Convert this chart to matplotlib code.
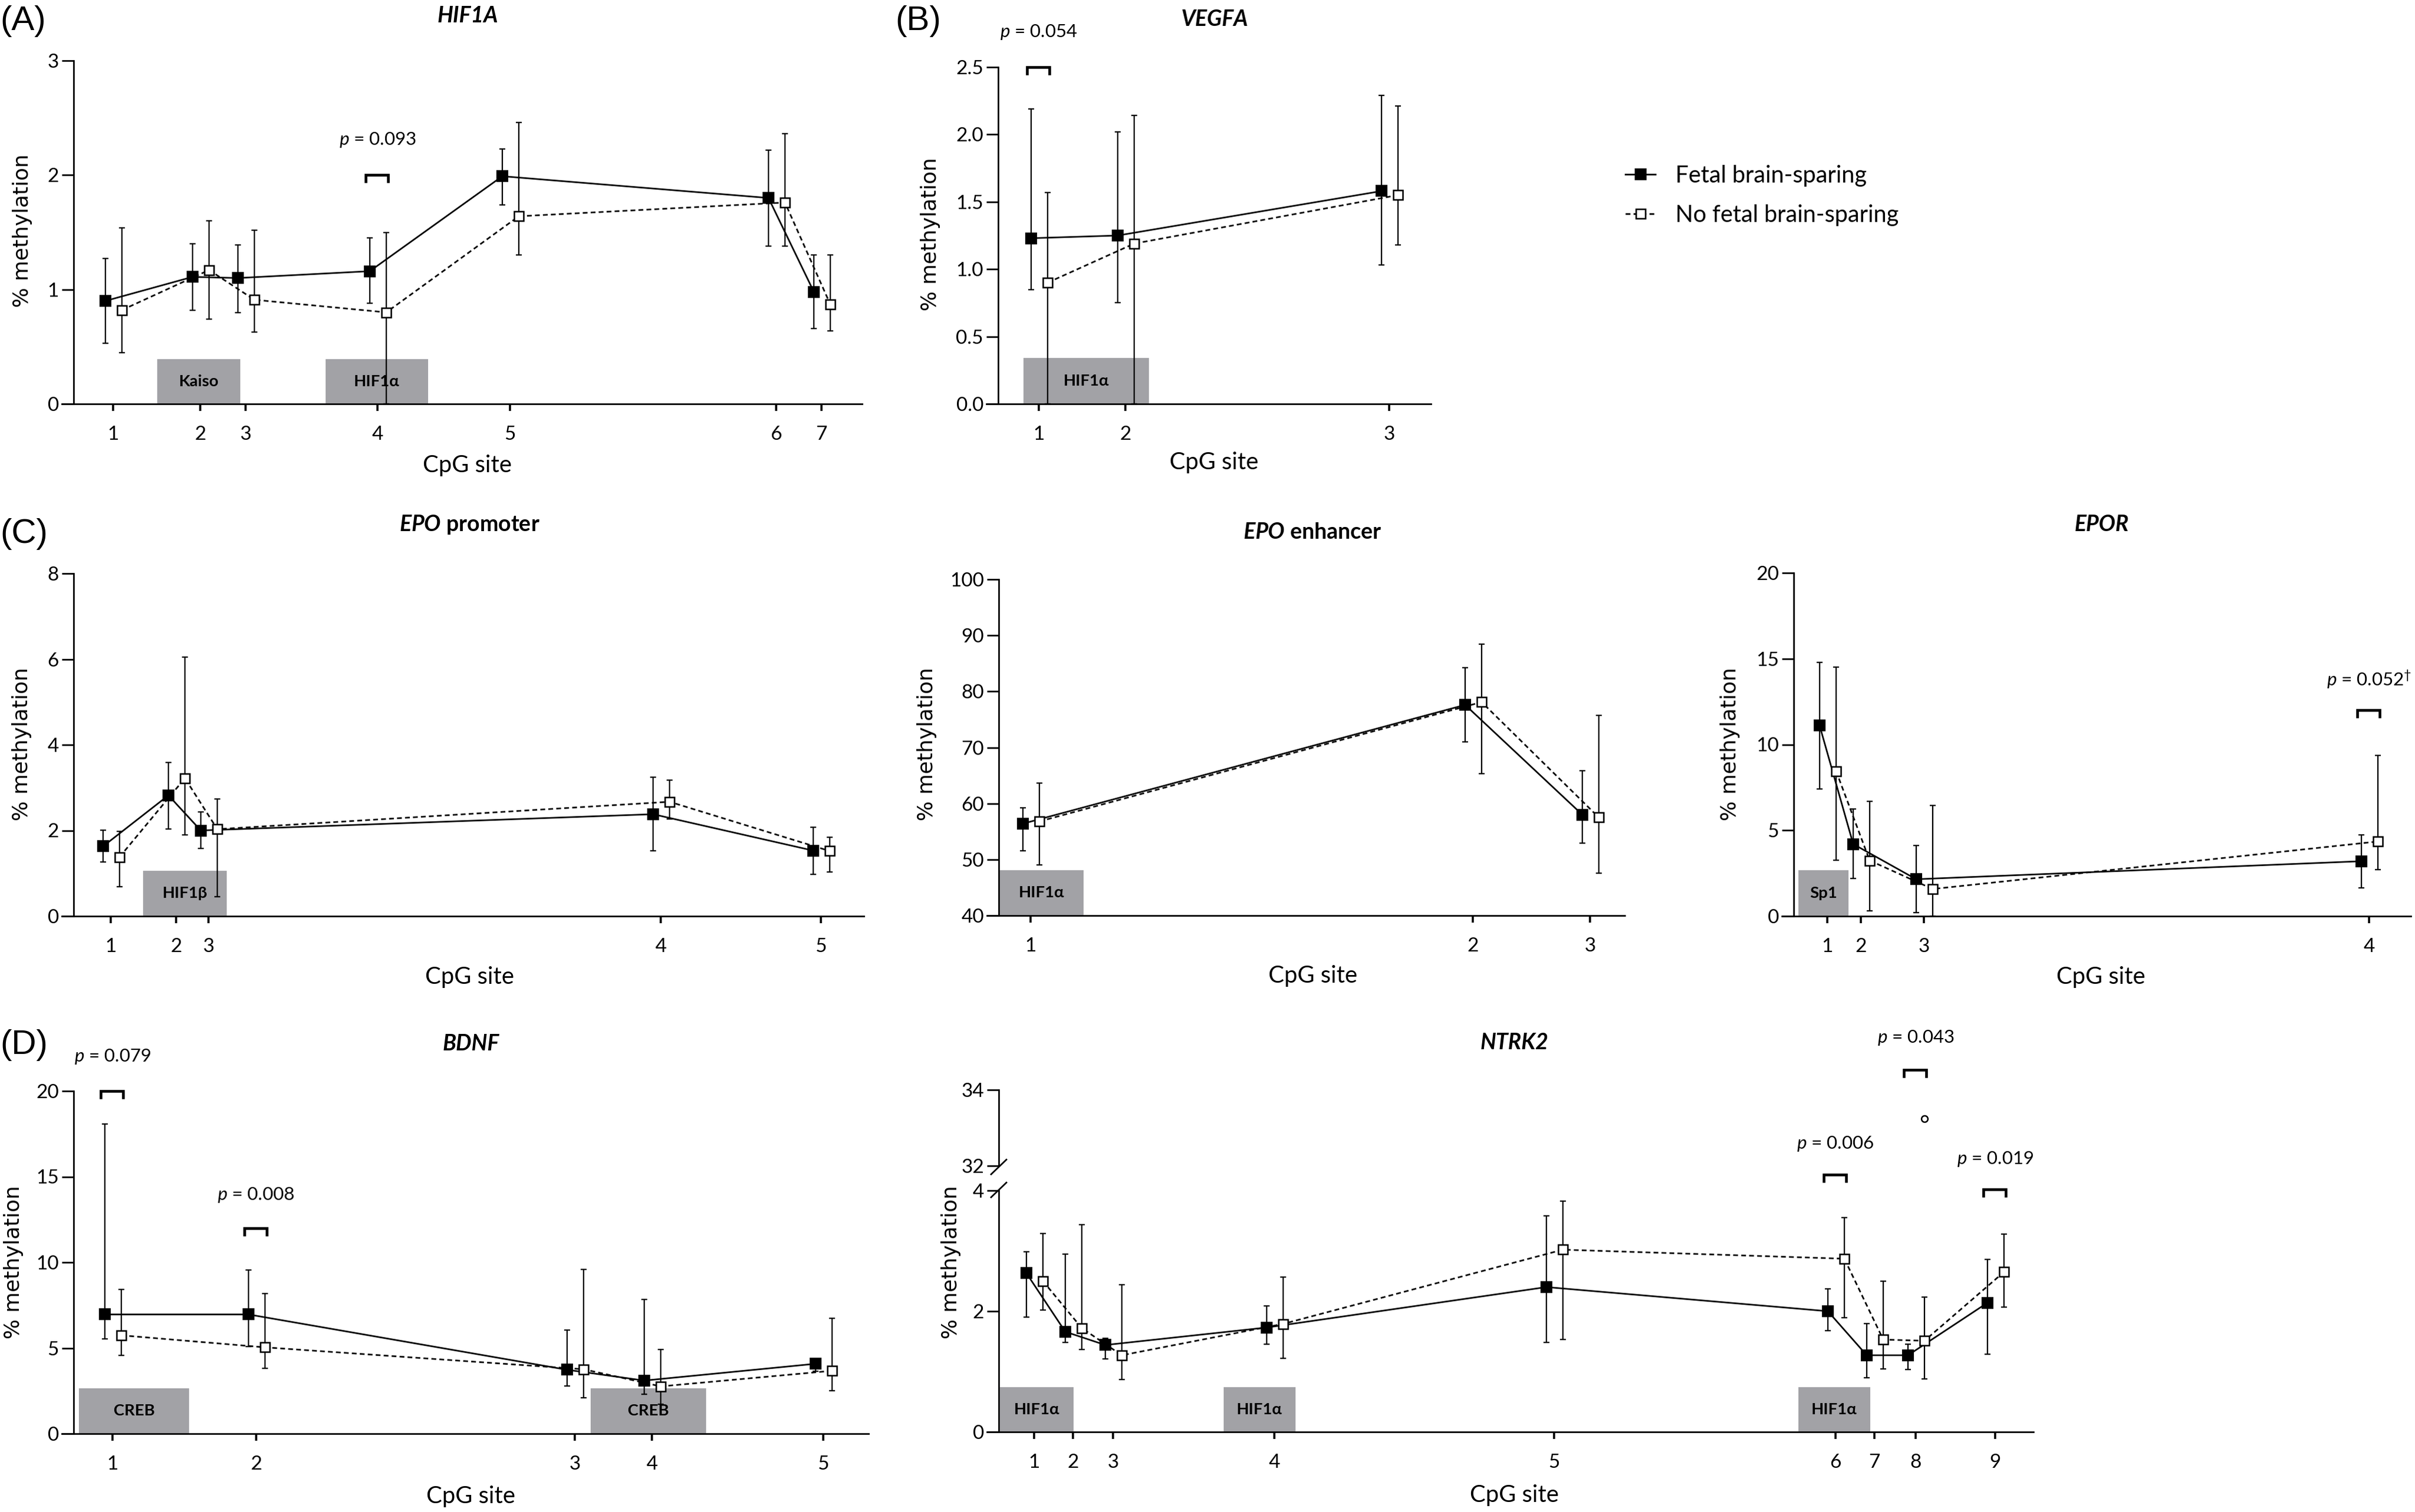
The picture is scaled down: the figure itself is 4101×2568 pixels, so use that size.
import matplotlib
matplotlib.use("Agg")
import matplotlib.pyplot as plt
from matplotlib.lines import Line2D
from matplotlib.patches import Rectangle
import numpy as np

W, H, DPI = 4101, 2568, 300

plt.rcParams['font.family'] = ['Lato', 'DejaVu Sans']
plt.rcParams['mathtext.fontset'] = 'custom'
plt.rcParams['mathtext.rm'] = 'Lato'
plt.rcParams['mathtext.it'] = 'Lato:italic'
plt.rcParams['mathtext.bf'] = 'Lato:bold'
plt.rcParams['mathtext.bfit'] = 'Lato:italic:bold'

# ---------------- data (% methylation, median + range bars) ----------------
# HIF1A
hif1a_pos = [67, 215, 292, 516, 741, 1193, 1270]
hif1a_fbs = [0.90, 1.11, 1.10, 1.16, 1.99, 1.80, 0.98]
hif1a_fbs_lo = [0.53, 0.82, 0.80, 0.88, 1.74, 1.38, 0.66]
hif1a_fbs_hi = [1.27, 1.40, 1.39, 1.45, 2.23, 2.22, 1.30]
hif1a_no = [0.82, 1.17, 0.91, 0.80, 1.64, 1.76, 0.87]
hif1a_no_lo = [0.45, 0.74, 0.63, 0.00, 1.30, 1.38, 0.64]
hif1a_no_hi = [1.54, 1.60, 1.52, 1.50, 2.46, 2.36, 1.30]
hif1a_tf = [("Kaiso", 142, 283), ("HIF1α", 428, 602)]

# VEGFA
vegfa_pos = [69, 216, 664]
vegfa_fbs = [1.23, 1.25, 1.58]
vegfa_fbs_lo = [0.85, 0.75, 1.03]
vegfa_fbs_hi = [2.19, 2.02, 2.29]
vegfa_no = [0.90, 1.19, 1.55]
vegfa_no_lo = [0.00, 0.00, 1.18]
vegfa_no_hi = [1.57, 2.14, 2.21]
vegfa_tf = [("HIF1α", 43, 256)]

# EPO promoter
epop_pos = [63, 174, 229, 997, 1269]
epop_fbs = [1.63, 2.82, 2.00, 2.38, 1.53]
epop_fbs_lo = [1.27, 2.03, 1.58, 1.53, 0.97]
epop_fbs_hi = [2.01, 3.59, 2.43, 3.25, 2.08]
epop_no = [1.38, 3.22, 2.03, 2.67, 1.52]
epop_no_lo = [0.69, 1.90, 0.45, 2.27, 1.03]
epop_no_hi = [1.98, 6.05, 2.73, 3.18, 1.84]
epop_tf = [("HIF1β", 118, 260)]

# EPO enhancer
epoe_pos = [54, 805, 1004]
epoe_fbs = [56.4, 77.6, 58.0]
epoe_fbs_lo = [51.6, 71.0, 52.9]
epoe_fbs_hi = [59.2, 84.2, 65.8]
epoe_no = [56.8, 78.1, 57.5]
epoe_no_lo = [49.0, 65.3, 47.6]
epoe_no_hi = [63.6, 88.4, 75.7]
epoe_tf = [("HIF1α", 1, 144)]

# EPOR
epor_pos = [57, 114, 221, 977]
epor_fbs = [11.1, 4.2, 2.15, 3.2]
epor_fbs_lo = [7.4, 2.2, 0.19, 1.66]
epor_fbs_hi = [14.8, 6.25, 4.1, 4.75]
epor_no = [8.45, 3.24, 1.58, 4.35]
epor_no_lo = [3.26, 0.32, 0.0, 2.70]
epor_no_hi = [14.5, 6.70, 6.46, 9.38]
epor_tf = [("Sp1", 8, 93)]

# BDNF
bdnf_pos = [66, 310, 851, 982, 1273]
bdnf_fbs = [6.96, 6.96, 3.73, 3.10, 4.08]
bdnf_fbs_lo = [5.53, 5.09, 2.78, 2.30, 3.65]
bdnf_fbs_hi = [18.08, 9.54, 6.05, 7.83, 4.35]
bdnf_no = [5.74, 5.04, 3.76, 2.76, 3.67]
bdnf_no_lo = [4.58, 3.80, 2.11, 1.71, 2.51]
bdnf_no_hi = [8.42, 8.19, 9.58, 4.90, 6.75]
bdnf_tf = [("CREB", 9, 196), ("CREB", 878, 1074)]

# NTRK2
ntrk2_pos = [60, 126, 194, 468, 943, 1421, 1487, 1557, 1692]
ntrk2_fbs = [2.63, 1.66, 1.44, 1.73, 2.40, 2.00, 1.27, 1.27, 2.14]
ntrk2_fbs_lo = [1.90, 1.48, 1.21, 1.45, 1.48, 1.68, 0.90, 1.03, 1.29]
ntrk2_fbs_hi = [2.99, 2.95, 1.55, 2.09, 3.58, 2.37, 1.80, 1.45, 2.86]
ntrk2_no = [2.50, 1.72, 1.27, 1.79, 3.02, 2.87, 1.53, 1.51, 2.65]
ntrk2_no_lo = [2.02, 1.37, 0.87, 1.22, 1.53, 1.89, 1.04, 0.88, 2.07]
ntrk2_no_hi = [3.29, 3.43, 2.44, 2.57, 3.82, 3.55, 2.50, 2.23, 3.28]
ntrk2_outlier_site = 8
ntrk2_outlier = 33.24
ntrk2_tf = [("HIF1α", 2, 127), ("HIF1α", 382, 504), ("HIF1α", 1358, 1480)]

# p-value annotations: (site index, bracket level, text level, label)
hif1a_p = [(4, 2.00, 2.31, "0.093")]
vegfa_p = [(1, 2.50, 2.76, "0.054")]
epor_p = [(4, 12.0, 13.8, "0.052$^{\\dagger}$")]
bdnf_p = [(1, 20.0, 22.0, "0.079"), (2, 12.0, 13.95, "0.008")]
ntrk2_p_lo = [(6, 4.26, 4.78, "0.006"), (9, 4.02, 4.52, "0.019")]
ntrk2_p_hi = [(8, 34.52, 35.37, "0.043")]

# ---------------- drawing ----------------
BOX = '#a2a2a6'
OFF_F, OFF_O = -13, 15

fig = plt.figure(figsize=(W / DPI, H / DPI), dpi=DPI)


def fx(x):
    return x / W


def fy(y):
    return 1 - y / H


def make_axes(x0, x1, ytop, ybot, ylim, yticks, yfmt="{:g}", xaxis=True):
    ax = fig.add_axes([fx(x0 - 20), fy(ybot), (x1 - x0 + 20) / W, (ybot - ytop) / H])
    ax.set_xlim(-20, x1 - x0)
    ax.set_ylim(*ylim)
    ax.patch.set_alpha(0)
    for s in ['top', 'right']:
        ax.spines[s].set_visible(False)
    ax.spines['left'].set_position(('data', 0))
    for s in ['left', 'bottom']:
        ax.spines[s].set_linewidth(0.65)
    ax.set_yticks(yticks)
    ax.set_yticklabels([yfmt.format(t) for t in yticks])
    ax.tick_params(axis='y', length=4.8, width=0.65, pad=1.2, labelsize=8)
    ax.tick_params(axis='x', length=2.9, width=0.85, pad=6, labelsize=8)
    if not xaxis:
        ax.spines['bottom'].set_visible(False)
        ax.set_xticks([])
    return ax


def draw_series(ax, pos, mean, lo, hi, filled, label=None):
    off = OFF_F if filled else OFF_O
    x = np.asarray(pos, float) + off
    m = np.asarray(mean, float)
    yerr = [m - np.asarray(lo, float), np.asarray(hi, float) - m]
    ax.errorbar(x, m, yerr=yerr, fmt='none', ecolor='black', elinewidth=0.55,
                capsize=1.3, capthick=0.55, zorder=3, clip_on=False)
    if filled:
        ln, = ax.plot(x, m, color='black', lw=0.65, marker='s', ms=4, mfc='black',
                      mec='black', zorder=4, clip_on=False, label=label)
    else:
        ln, = ax.plot(x, m, color='black', lw=0.65, ls=(0, (3, 2)), marker='s', ms=4,
                      mfc='white', mec='black', mew=0.6, zorder=5, clip_on=False, label=label)
    return ln


def draw_tf(ax, boxes, top):
    y0 = ax.get_ylim()[0]
    for name, a, b in boxes:
        ax.add_patch(Rectangle((a, y0), b - a, top - y0, facecolor=BOX, edgecolor='none', zorder=1))
        ax.text((a + b) / 2, (y0 + top) / 2, name, ha='center', va='center',
                fontsize=6.6, fontweight='bold', zorder=2)


def draw_p(ax, pos, items, ax_h_px):
    lo, hi = ax.get_ylim()
    d = (hi - lo) / ax_h_px * 11
    for site, yb, yt, lab in items:
        xc = pos[site - 1]
        ax.plot([xc - 20, xc - 20, xc + 18, xc + 18], [yb - d, yb, yb, yb - d], color='black',
                lw=1.1, solid_joinstyle='miter', clip_on=False, zorder=6)
        ax.text(xc, yt, r"$\mathit{p}$ = " + lab, ha='center', va='center', fontsize=7.5,
                clip_on=False)


def xsites(ax, pos):
    ax.set_xticks(pos)
    ax.set_xticklabels([str(i + 1) for i in range(len(pos))])


def ylabel(x, y):
    fig.text(fx(x), fy(y), "% methylation", rotation=90, ha='center', va='center',
             fontsize=8.6, family='DejaVu Sans')


def xlabel(x, y):
    fig.text(fx(x), fy(y), "CpG site", ha='center', va='center', fontsize=9.6)


def title(x, y, gene, rest=None):
    if rest is None:
        fig.text(fx(x), fy(y), gene, ha='center', va='center', fontsize=9,
                 fontweight='bold', fontstyle='italic')
    else:
        fig.text(fx(x), fy(y), r"$\mathbfit{" + gene + "}$ " + rest, ha='center', va='center',
                 fontsize=9, fontweight='bold')


def letter(x, y, s):
    fig.text(fx(x), fy(y), s, ha='left', va='center', fontsize=14, family='Liberation Sans')


# (A) HIF1A
ax = make_axes(125, 1464, 103, 686, (0, 3), [0, 1, 2, 3])
xsites(ax, hif1a_pos)
draw_tf(ax, hif1a_tf, 0.39)
draw_series(ax, hif1a_pos, hif1a_fbs, hif1a_fbs_lo, hif1a_fbs_hi, True)
draw_series(ax, hif1a_pos, hif1a_no, hif1a_no_lo, hif1a_no_hi, False)
draw_p(ax, hif1a_pos, hif1a_p, 583)
letter(0, 36, "(A)")
title(794, 26, "HIF1A")
xlabel(794, 791)
ylabel(38, 392)

# (B) VEGFA
ax = make_axes(1695, 2430, 114, 686, (0, 2.5), [0, 0.5, 1.0, 1.5, 2.0, 2.5], "{:.1f}")
xsites(ax, vegfa_pos)
draw_tf(ax, vegfa_tf, 0.34)
h1 = draw_series(ax, vegfa_pos, vegfa_fbs, vegfa_fbs_lo, vegfa_fbs_hi, True, "Fetal brain-sparing")
h2 = draw_series(ax, vegfa_pos, vegfa_no, vegfa_no_lo, vegfa_no_hi, False, "No fetal brain-sparing")
draw_p(ax, vegfa_pos, vegfa_p, 572)
letter(1520, 36, "(B)")
title(2062, 33, "VEGFA")
xlabel(2062, 786)
ylabel(1580, 398)
fig.legend(handles=[h1, h2], loc='upper left', bbox_to_anchor=(fx(2760), fy(280)),
           frameon=False, fontsize=9.5, handlelength=1.3, handletextpad=0.85,
           labelspacing=0.75, borderpad=0, borderaxespad=0)

# (C) EPO promoter
ax = make_axes(125, 1467, 974, 1556, (0, 8), [0, 2, 4, 6, 8])
xsites(ax, epop_pos)
draw_tf(ax, epop_tf, 1.06)
draw_series(ax, epop_pos, epop_fbs, epop_fbs_lo, epop_fbs_hi, True)
draw_series(ax, epop_pos, epop_no, epop_no_lo, epop_no_hi, False)
letter(0, 907, "(C)")
title(797, 891, "EPO", "promoter")
xlabel(797, 1660)
ylabel(37, 1264)

# EPO enhancer
ax = make_axes(1696, 2759, 984, 1555, (40, 100), [40, 50, 60, 70, 80, 90, 100])
xsites(ax, epoe_pos)
draw_tf(ax, epoe_tf, 48.1)
draw_series(ax, epoe_pos, epoe_fbs, epoe_fbs_lo, epoe_fbs_hi, True)
draw_series(ax, epoe_pos, epoe_no, epoe_no_lo, epoe_no_hi, False)
title(2229, 904, "EPO", "enhancer")
xlabel(2229, 1658)
ylabel(1574, 1264)

# EPOR
ax = make_axes(3046, 4094, 973, 1556, (0, 20), [0, 5, 10, 15, 20])
xsites(ax, epor_pos)
draw_tf(ax, epor_tf, 2.68)
draw_series(ax, epor_pos, epor_fbs, epor_fbs_lo, epor_fbs_hi, True)
draw_series(ax, epor_pos, epor_no, epor_no_lo, epor_no_hi, False)
draw_p(ax, epor_pos, epor_p, 583)
title(3569, 891, "EPOR")
xlabel(3568, 1660)
ylabel(2938, 1264)

# (D) BDNF
ax = make_axes(125, 1475, 1853, 2435, (0, 20), [0, 5, 10, 15, 20])
xsites(ax, bdnf_pos)
draw_tf(ax, bdnf_tf, 2.66)
draw_series(ax, bdnf_pos, bdnf_fbs, bdnf_fbs_lo, bdnf_fbs_hi, True)
draw_series(ax, bdnf_pos, bdnf_no, bdnf_no_lo, bdnf_no_hi, False)
draw_p(ax, bdnf_pos, bdnf_p, 582)
letter(0, 1775, "(D)")
title(800, 1772, "BDNF")
xlabel(800, 2541)
ylabel(23, 2144)

# NTRK2 (broken y axis)
ax_lo = make_axes(1696, 3453, 2022, 2432, (0, 4), [0, 2, 4])
ax_hi = make_axes(1696, 3453, 1851, 1980, (32, 34), [32, 34], xaxis=False)
xsites(ax_lo, ntrk2_pos)
draw_tf(ax_lo, ntrk2_tf, 0.74)
draw_series(ax_lo, ntrk2_pos, ntrk2_fbs, ntrk2_fbs_lo, ntrk2_fbs_hi, True)
draw_series(ax_lo, ntrk2_pos, ntrk2_no, ntrk2_no_lo, ntrk2_no_hi, False)
ax_hi.plot([ntrk2_pos[ntrk2_outlier_site - 1] + OFF_O], [ntrk2_outlier], 'o', ms=2.6,
           mfc='white', mec='black', mew=0.6, clip_on=False)
draw_p(ax_lo, ntrk2_pos, ntrk2_p_lo, 410)
draw_p(ax_hi, ntrk2_pos, ntrk2_p_hi, 129)
for yc in (1982, 2021):
    fig.add_artist(Line2D([fx(1696 - 13), fx(1696 + 13)], [fy(yc + 12.5), fy(yc - 12.5)],
                          color='black', lw=0.65, transform=fig.transFigure))
title(2572, 1771, "NTRK2")
xlabel(2572, 2539)
ylabel(1615, 2144)

fig.savefig("out.png", dpi=DPI)
